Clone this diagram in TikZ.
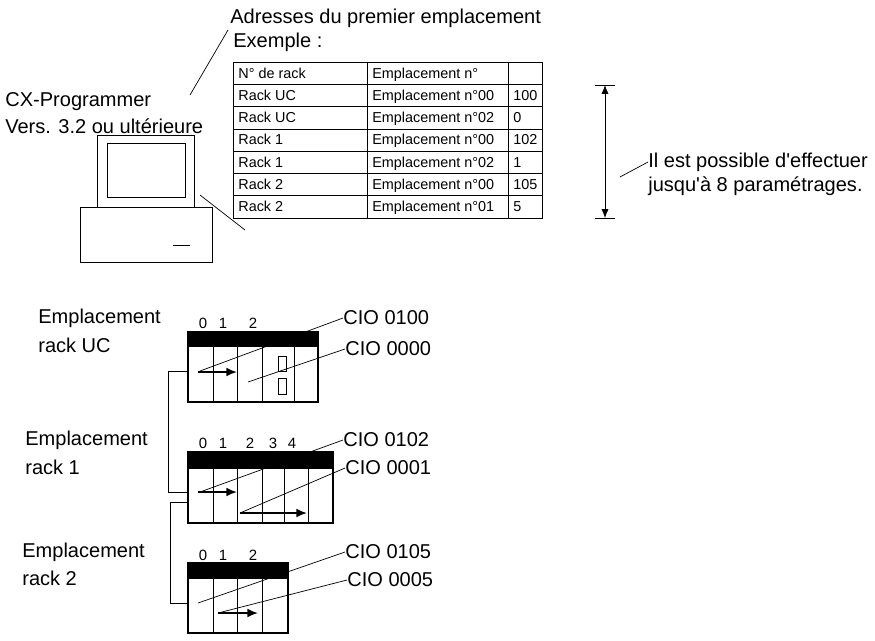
\documentclass[tikz,border=0pt]{standalone}
\usepackage{fontspec}
\setmainfont{Liberation Sans}
\usetikzlibrary{arrows.meta}

\tikzset{
  lbl/.style={anchor=west,inner sep=0pt,font=\fontsize{11.4}{13}\selectfont},
  cell/.style={anchor=base west,inner sep=0pt,font=\fontsize{8.2}{9}\selectfont},
  slot/.style={inner sep=0pt,font=\fontsize{8.5}{9}\selectfont},
  rack/.style={line width=1.2pt},
  lead/.style={thin},
  arr/.style={-{Latex[length=6pt,width=5pt]},line width=1pt}
}

\begin{document}
\begin{tikzpicture}[x=0.02cm,y=-0.02cm]
        \useasboundingbox (0,0) rectangle (875,640);

        % PC and texts
        \node[lbl] (adr) at (230,18) {Adresses du premier emplacement};
        \node[lbl] (ex) at (233,42) {Exemple :};
        \node[lbl] (cx1) at (5,102) {CX-Programmer};
        \node[lbl] (cx2) at (5,126) {Vers. 3.2 ou ultérieure};
        \draw (97,135) rectangle (194,207);
        \draw (107,143) rectangle (185,197);
        \draw (80,207) rectangle (212,262);
        \draw (173,245) -- (190,245);
        \coordinate (pcA) at (190,95);
        \coordinate (pcB) at (200,195);
        \coordinate (tbA) at (228,30);
        \coordinate (tbB) at (245,230);
        \draw[lead] (pcA) -- (tbA);
        \draw[lead] (pcB) -- (tbB);

        % table
        \draw[thin] (233,62) rectangle (542,218);
        \foreach \i in {1,...,6}
          \draw[thin] (233,62+22.3*\i) -- (542,62+22.3*\i);
        \draw[thin] (367,62) -- (367,218);
        \draw[thin] (508,62) -- (508,218);
        \foreach \a/\b/\c [count=\r from 0] in
          {N\textdegree\ de rack/Emplacement n\textdegree/,
           Rack UC/Emplacement n\textdegree00/100,
           Rack UC/Emplacement n\textdegree02/0,
           Rack 1/Emplacement n\textdegree00/102,
           Rack 1/Emplacement n\textdegree02/1,
           Rack 2/Emplacement n\textdegree00/105,
           Rack 2/Emplacement n\textdegree01/5}{
          \node[cell] (ta\r) at (238,78+22.3*\r) {\a};
          \node[cell] (tb\r) at (372,78+22.3*\r) {\b};
          \node[cell] (tc\r) at (513,78+22.3*\r) {\c};
        }
        \coordinate (dimT) at (605,85);
        \coordinate (dimB) at (605,218);
        \draw (595,85) -- (615,85);
        \draw (595,218) -- (615,218);
        \draw[{Latex[length=5pt,width=4pt]}-{Latex[length=5pt,width=4pt]}] (dimT) -- (dimB);
        \node[lbl] (poss1) at (648,162) {Il est possible d\textquotesingle effectuer};
        \node[lbl] (poss2) at (648,186) {jusqu\textquotesingle à 8 paramétrages.};
        \draw[lead] (620,177) -- (poss1.west);

        % rack UC
        \fill (188,332) rectangle (318,347);
        \draw[rack] (188,332) rectangle (318,402);
        \foreach \x in {213,237,262,294} \draw (\x,347) -- (\x,402);
        \draw (278,356) rectangle (286,371);
        \draw (278,378) rectangle (286,394);
        \foreach \x/\n in {203/0,223/1,253/2} \node[slot] at (\x,323) {\n};
        \draw[arr] (198,372) -- (237,372);
        \node[lbl] (cio100) at (343,318) {CIO 0100};
        \node[lbl] (cio000) at (345,349) {CIO 0000};
        \draw[lead] (cio100.west) -- (200,371);
        \draw[lead] (cio000.west) -- (248,382);
        \node[lbl] (rUCa) at (38,318) {Emplacement};
        \node[lbl] (rUCb) at (38,345) {rack UC};

        % rack 1
        \fill (188,452) rectangle (333,469);
        \draw[rack] (188,452) rectangle (333,523);
        \foreach \x in {213,237,262,284,308} \draw (\x,469) -- (\x,523);
        \foreach \x/\n in {203/0,223/1,250/2,273/3,292/4} \node[slot] at (\x,443) {\n};
        \draw[arr] (198,492) -- (237,492);
        \draw[arr] (240,513) -- (307,513);
        \node[lbl] (cio102) at (343,440) {CIO 0102};
        \node[lbl] (cio001) at (345,468) {CIO 0001};
        \draw[lead] (cio102.west) -- (200,492);
        \draw[lead] (cio001.west) -- (240,513);
        \node[lbl] (r1a) at (25,440) {Emplacement};
        \node[lbl] (r1b) at (25,467) {rack 1};

        % rack 2
        \fill (188,563) rectangle (288,579);
        \draw[rack] (188,563) rectangle (288,633);
        \foreach \x in {213,237,262} \draw (\x,579) -- (\x,633);
        \foreach \x/\n in {203/0,223/1,253/2} \node[slot] at (\x,555) {\n};
        \draw[arr] (218,613) -- (258,613);
        \node[lbl] (cio105) at (345,552) {CIO 0105};
        \node[lbl] (cio005) at (347,580) {CIO 0005};
        \draw[lead] (cio105.west) -- (198,603);
        \draw[lead] (cio005.west) -- (218,613);
        \node[lbl] (r2a) at (22,552) {Emplacement};
        \node[lbl] (r2b) at (22,578) {rack 2};

        % cables
        \draw (188,371) -- (168,371) -- (168,492) -- (188,492);
        \draw (188,502) -- (170,502) -- (170,603) -- (188,603);
\end{tikzpicture}
\end{document}
